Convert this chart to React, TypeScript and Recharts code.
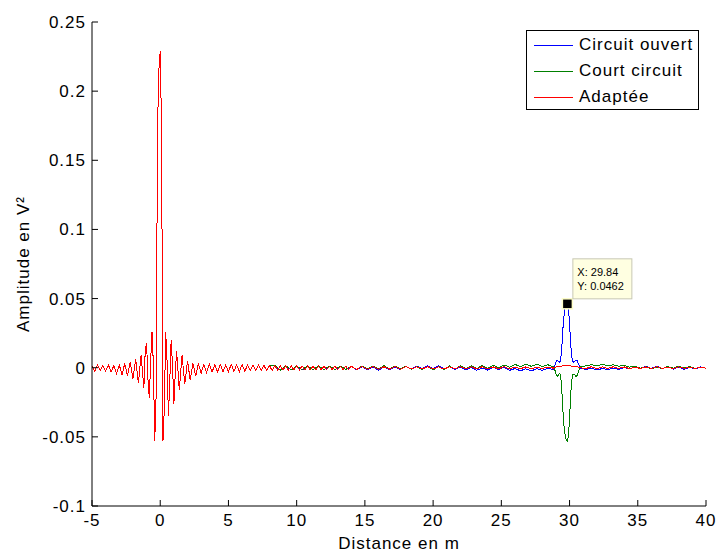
import React from 'react'
import {
  LineChart, Line, XAxis, YAxis, Legend, ReferenceDot,
} from 'recharts'

const FONT = '"Liberation Sans", Arial, Helvetica, sans-serif'

const xTicks = [-5, 0, 5, 10, 15, 20, 25, 30, 35, 40]
const yTicks = [-0.1, -0.05, 0, 0.05, 0.1, 0.15, 0.2, 0.25]

// incident pulse, common to the three traces
// x = -5 .. -1.2 (step 0.2)
const pulseA = [
  0.001, -0.0025, 0.002, -0.002, 0.0015, -0.0025, 0.002, -0.003, 0.0015, -0.004,
  0.002, -0.005, 0.003, -0.006, 0.004, -0.008, 0.006, -0.011, 0.009, -0.015,
]
// x = -1.1 .. 1.1 (step 0.1)
const pulseB = [
  0.012, 0.018, -0.008, -0.022, 0.005, 0.026, 0.002, -0.053, -0.02, 0.172,
  0.215, 0.229, 0.17, -0.053, -0.03, 0.026, 0.005, -0.035, -0.01, 0.02,
  0.002, -0.026, -0.005,
]
// x = 1.2 .. 8.0 (step 0.2)
const pulseC = [
  0.012, -0.016, 0.009, -0.012, 0.005, -0.009, 0.003, -0.006, 0.003, -0.004,
  0.0025, -0.0035, 0.0025, -0.003, 0.002, -0.003, 0.0025, -0.0028, 0.002, -0.003,
  0.0025, -0.0025, 0.002, -0.0028, 0.0022, -0.0025, 0.002, -0.0022, 0.0018, -0.0022,
  0.0018, -0.002, 0.0017, -0.002, 0.0016,
]

// Adaptée : x = 8.2 .. 14.0 (0.2), 14.4 .. 28.8 (0.4), 28.88 .. 30.8 (0.08), 31.2 .. 40 (0.4)
const redTail1 = [
  -0.0019, 0.0016, -0.0019, 0.0015, -0.0018, 0.0015, -0.0018, 0.0014, -0.0017, 0.0014,
  -0.0016, 0.0013, -0.0016, 0.0013, -0.0015, 0.0012, -0.0015, 0.0012, -0.0014, 0.0011,
  -0.0014, 0.0011, -0.0013, 0.0011, -0.0013, 0.001, -0.0012, 0.001, -0.0012, 0.001,
]
const redTail2 = [
  -0.0012, 0.0009, -0.0011, 0.0008, -0.0012, 0.0007, -0.001, 0.0009, -0.0011, 0.0008,
  -0.0009, 0.0007, -0.001, 0.0008, -0.0009, 0.0006, -0.001, 0.0007, -0.0008, 0.0008,
  -0.0009, 0.0006, -0.0008, 0.0007, -0.0009, 0.0006, -0.0007, 0.0007, -0.0008, 0.0005,
  -0.0007, 0.0006, -0.0007, 0.0005, -0.0006, 0.0004, -0.0003,
]
const redPeak = [
  0, 0.0003, 0.0006, 0.0008, 0.001, 0.0011, 0.0012, 0.0012, 0.0013, 0.0013,
  0.0014, 0.0014, 0.0014, 0.0014, 0.0013, 0.0013, 0.0012, 0.0012, 0.0011, 0.001,
  0.0008, 0.0006, 0.0004, 0.0002, 0,
]
const redEnd = [
  -0.0006, 0.0007, -0.0007, 0.0006, -0.0006, 0.0007, -0.0005, 0.0006, -0.0007, 0.0005,
  -0.0006, 0.0006, -0.0005, 0.0007, -0.0006, 0.0005, -0.0006, 0.0006, -0.0005, 0.0005,
  -0.0006, 0.0005, -0.0004,
]

// Circuit ouvert : x = 8.4 .. 28.8 (0.4), 28.88 .. 30.8 (0.08), 31.2 .. 40 (0.4)
const blueTail = [
  0.0015, -0.0018, 0.0014, -0.0017, 0.0013, -0.0016, 0.0012, -0.0015, 0.0012, -0.0015,
  0.0011, -0.0014, 0.001, -0.0014, 0.0009, -0.0015, 0.0008, -0.0016, 0.0006, -0.0018,
  0.0005, -0.0015, 0.0007, -0.0012, 0.0009, -0.001, 0.0012, -0.0008, 0.0014, -0.0006,
  0.0013, -0.0008, 0.001, -0.0012, 0.0006, -0.0016, 0.0002, -0.0018, -0.0002, -0.0017,
  0.0003, -0.0015, 0.0004, -0.0019, -0.0006, -0.0022, -0.0008, -0.0024, -0.0006, -0.002,
  -0.0004, -0.0012,
]
const bluePeak = [
  0, 0.003, 0.0048, 0.0052, 0.0045, 0.0038, 0.0065, 0.016, 0.029, 0.038,
  0.043, 0.0455, 0.0462, 0.043, 0.032, 0.017, 0.008, 0.0045, 0.004, 0.0048,
  0.0055, 0.005, 0.003, 0.001, -0.0005,
]
const blueEnd = [
  -0.0012, -0.0004, -0.0016, -0.0006, -0.0014, -0.0003, -0.0012, 0.0002, -0.0008, 0.0006,
  -0.0004, 0.001, -0.0006, 0.0012, -0.0008, 0.0009, -0.001, 0.0006, -0.0012, 0.0004,
  -0.0009, 0.0007, -0.0005,
]

// Court circuit
const greenTail = [
  0.0016, -0.0017, 0.0015, -0.0016, 0.0014, -0.0015, 0.0013, -0.0014, 0.0013, -0.0013,
  0.0012, -0.0013, 0.0012, -0.0012, 0.0011, -0.0012, 0.0012, -0.001, 0.0013, -0.0009,
  0.0014, -0.0008, 0.0013, -0.001, 0.0011, -0.0012, 0.0009, -0.0014, 0.0008, -0.0015,
  0.0009, -0.0013, 0.0012, -0.001, 0.0014, -0.0008, 0.0015, -0.0006, 0.0016, -0.0004,
  0.0018, 0, 0.002, 0.0004, 0.0024, 0.0008, 0.0026, 0.001, 0.0025, 0.0009,
  0.0022, 0.0006,
]
const greenPeak = [
  0, -0.003, -0.0055, -0.0062, -0.005, -0.004, -0.007, -0.018, -0.032, -0.043,
  -0.049, -0.052, -0.0528, -0.049, -0.037, -0.02, -0.009, -0.005, -0.0045, -0.0055,
  -0.0065, -0.0055, -0.003, -0.001, 0.0005,
]
const greenEnd = [
  0.0014, 0.0022, 0.0012, 0.0024, 0.0015, 0.0021, 0.0011, 0.0016, 0.0004, 0.0012,
  -0.0004, 0.0008, -0.0008, 0.0006, -0.0006, 0.0009, -0.0004, 0.0011, -0.0002, 0.0008,
  -0.0006, 0.0005, -0.0003,
]

// data tip shown on the open-circuit echo
const tipX = 29.84
const tipY = 0.0462

type Pt = { x: number; y: number }
const seg = (x0: number, step: number, ys: number[]): Pt[] =>
  ys.map((y, i) => ({ x: +(x0 + i * step).toFixed(2), y }))

const pulse = [...seg(-5, 0.2, pulseA), ...seg(-1.1, 0.1, pulseB), ...seg(1.2, 0.2, pulseC)]

const series = [
  {
    name: 'Circuit ouvert', color: '#0000ff',
    data: [...pulse, ...seg(8.4, 0.4, blueTail), ...seg(28.88, 0.08, bluePeak), ...seg(31.2, 0.4, blueEnd)],
  },
  {
    name: 'Court circuit', color: '#008000',
    data: [...pulse, ...seg(8.4, 0.4, greenTail), ...seg(28.88, 0.08, greenPeak), ...seg(31.2, 0.4, greenEnd)],
  },
  {
    name: 'Adaptée', color: '#ff0000',
    data: [
      ...pulse, ...seg(8.2, 0.2, redTail1), ...seg(14.4, 0.4, redTail2),
      ...seg(28.88, 0.08, redPeak), ...seg(31.2, 0.4, redEnd),
    ],
  },
]

// legend kept in plot order (Recharts sorts its payload by name)
const LegendBox = () => (
  <div
    style={{
      width: 173, height: 80, boxSizing: 'border-box', border: '1px solid #000',
      background: '#fff', paddingTop: 1, fontFamily: FONT, fontSize: 17,
      letterSpacing: '1px', color: '#000',
    }}
  >
    {series.map((s) => (
      <div key={s.name} style={{ display: 'flex', alignItems: 'center', height: 26 }}>
        <div style={{ width: 39, height: 1, background: s.color, marginLeft: 7, marginRight: 6 }} />
        <span style={{ lineHeight: '26px' }}>{s.name}</span>
      </div>
    ))}
  </div>
)

const DataTip = ({ cx, cy }: any) => {
  if (cx == null || cy == null) return null
  return (
    <g>
      <rect x={cx - 5} y={cy - 5} width={10} height={10} fill="#000" stroke="#ffffc8" strokeWidth={1.5} />
      <rect x={cx + 5.5} y={cy - 45} width={59} height={40} fill="#ffffe1" stroke="#c8c8b4" />
      <text x={cx + 10} y={cy - 28} fontSize={11} fill="#000" fontFamily={FONT} style={{ letterSpacing: 0 }}>
        X: {tipX}
      </text>
      <text x={cx + 10} y={cy - 14} fontSize={11} fill="#000" fontFamily={FONT} style={{ letterSpacing: 0 }}>
        Y: {tipY}
      </text>
    </g>
  )
}

const tickStyle = { fill: '#000', fontSize: 17 }

export default function App() {
  return (
    <div
      style={{
        position: 'absolute', left: 0, top: 0, width: 718, height: 556,
        background: '#fff', fontFamily: FONT, letterSpacing: '1px',
      }}
    >
      <LineChart width={718} height={556} margin={{ top: 22, right: 12, bottom: 0, left: 0 }}>
        <XAxis
          dataKey="x" type="number" domain={[-5, 40]} ticks={xTicks} interval={0}
          allowDataOverflow height={50} tickSize={-6} tickMargin={14}
          axisLine={{ stroke: '#000' }} tickLine={{ stroke: '#000' }} tick={tickStyle}
          label={{ value: 'Distance en m', position: 'insideBottom', offset: 7, fill: '#000', fontSize: 17 }}
        />
        <XAxis
          xAxisId="top" orientation="top" type="number" domain={[-5, 40]} ticks={xTicks}
          interval={0} allowDataOverflow height={0} mirror tick={false} tickSize={6}
          axisLine={{ stroke: '#555' }} tickLine={{ stroke: '#555' }}
        />
        <YAxis
          type="number" domain={[-0.1, 0.25]} ticks={yTicks} interval={0} allowDataOverflow
          width={92} tickSize={-6} tickMargin={12}
          axisLine={{ stroke: '#000' }} tickLine={{ stroke: '#000' }} tick={tickStyle}
          label={{
            value: 'Amplitude en V²', angle: -90, position: 'insideLeft', offset: 23,
            fill: '#000', fontSize: 17, style: { textAnchor: 'middle' },
          }}
        />
        <YAxis
          yAxisId="right" orientation="right" type="number" domain={[-0.1, 0.25]} ticks={yTicks}
          interval={0} allowDataOverflow width={0} mirror tick={false} tickSize={6}
          axisLine={{ stroke: '#000' }} tickLine={{ stroke: '#000' }}
        />
        <Legend
          layout="vertical" align="center" verticalAlign="middle"
          wrapperStyle={{ top: 30, left: 526, width: 173, height: 80 }}
          content={() => <LegendBox />}
        />
        {series.map((s) => (
          <Line
            key={s.name} data={s.data} dataKey="y" name={s.name} type="linear"
            stroke={s.color} strokeWidth={1} dot={false} activeDot={false}
            shapeRendering="crispEdges"
            isAnimationActive={false}
          />
        ))}
        <ReferenceDot x={tipX} y={tipY} r={5} shape={(p: any) => <DataTip {...p} />} />
      </LineChart>
    </div>
  )
}
